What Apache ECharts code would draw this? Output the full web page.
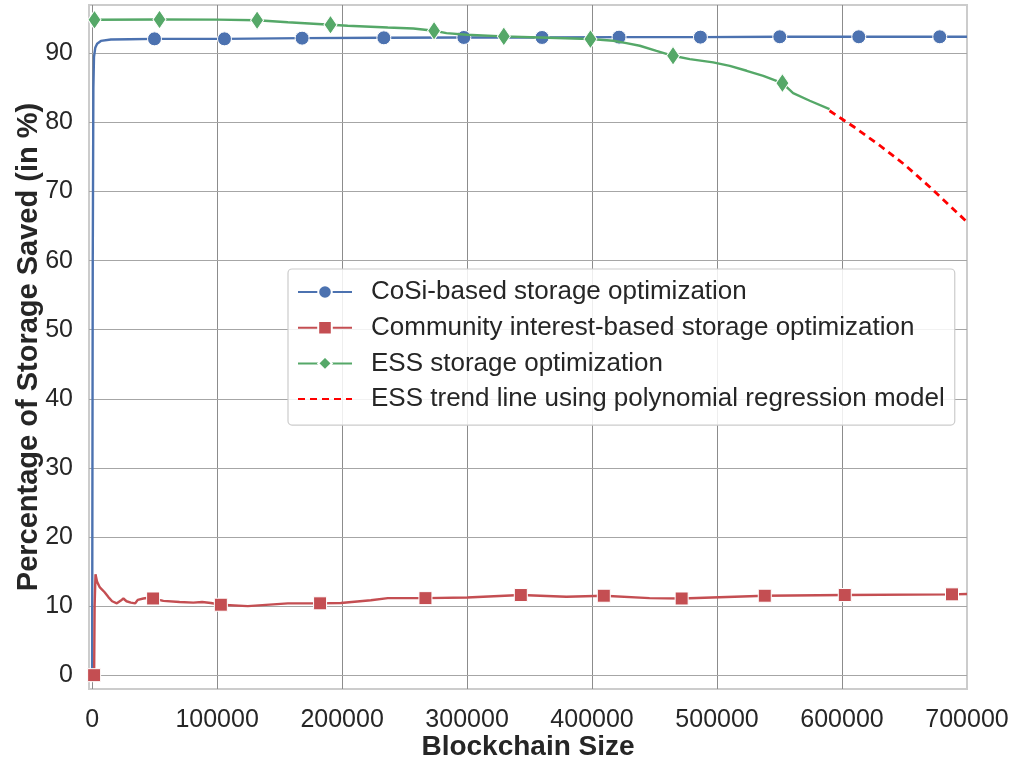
<!DOCTYPE html>
<html>
<head>
<meta charset="utf-8">
<script src="https://cdn.jsdelivr.net/npm/echarts@6/dist/echarts.min.js"></script>
<style>
html,body{margin:0;padding:0;background:#fff;}
#chart{width:1016px;height:761px;}
</style>
</head>
<body>
<div id="chart"></div>
<script>
// ---- data ----
const seriesNames = [
  'CoSi-based storage optimization',
  'Community interest-based storage optimization',
  'ESS storage optimization',
  'ESS trend line using polynomial regression model'
];
const xTickValues = [0, 100000, 200000, 300000, 400000, 500000, 600000, 700000];
const yTickValues = [0, 10, 20, 30, 40, 50, 60, 70, 80, 90];

const cosiX = [0, 500, 1000, 1500, 2500, 4000, 7000, 15000, 30000, 49900, 105900, 168000, 233400, 297400, 360000, 421600, 486700, 550200, 613400, 678200, 700000];
const cosiY = [0, 60, 85, 89.5, 90.8, 91.4, 91.8, 92.0, 92.05, 92.1, 92.1, 92.2, 92.25, 92.3, 92.3, 92.35, 92.35, 92.4, 92.4, 92.4, 92.4];
const cosiMarkerX = [49900, 105900, 168000, 233400, 297400, 360000, 421600, 486700, 550200, 613400, 678200];

const communityX = [1600, 2000, 2700, 4000, 6200, 10000, 13000, 16000, 19800, 23000, 25000, 27500, 31000, 34500, 36500, 41000, 45000, 48800, 57000, 70000, 81000, 88000, 95000, 103000, 124600, 156600, 182400, 199000, 223000, 236600, 266700, 300000, 343000, 379500, 409400, 446000, 471700, 538200, 602200, 688000, 700000];
const communityY = [0, 10, 14.6, 13.5, 12.7, 12.0, 11.3, 10.7, 10.4, 10.8, 11.1, 10.7, 10.5, 10.4, 10.9, 11.1, 11.2, 11.1, 10.75, 10.6, 10.5, 10.6, 10.45, 10.2, 10.0, 10.4, 10.4, 10.45, 10.85, 11.15, 11.15, 11.25, 11.6, 11.35, 11.5, 11.15, 11.1, 11.5, 11.6, 11.7, 11.75];
const communityMarkerX = [1600, 48800, 103000, 182400, 266700, 343000, 409400, 471700, 538200, 602200, 688000];

const essX = [0, 1900, 53900, 100000, 132000, 156600, 190700, 204500, 236600, 257000, 273600, 283500, 299500, 329400, 358200, 398700, 417000, 427500, 438200, 451500, 464800, 478200, 496900, 510200, 523700, 537000, 552300, 560900, 574200, 590000];
const essY = [94.8, 94.86, 94.9, 94.88, 94.8, 94.5, 94.14, 94.0, 93.75, 93.6, 93.27, 92.93, 92.7, 92.46, 92.3, 92.07, 91.82, 91.49, 91.1, 90.37, 89.65, 89.17, 88.7, 88.2, 87.48, 86.75, 85.7, 84.25, 83.14, 81.93];
const essMarkerX = [1900, 53900, 132000, 190700, 273600, 329400, 398700, 464800, 552300];

const trendX = [590000, 600000, 610000, 620000, 630000, 640000, 650000, 660000, 670000, 680000, 690000, 700000];
const trendY = [81.7, 80.5, 79.3, 78.0, 76.7, 75.3, 73.9, 72.3, 70.7, 69.0, 67.3, 65.6];

// ---- build ----
function build(xs, ys, markers, size) {
  const set = new Set(markers);
  return xs.map((x, i) => ({ value: [x, ys[i]], symbolSize: set.has(x) ? size : 0 }));
}
const FONT = '"Liberation Sans", Arial, Helvetica, sans-serif';
const TEXT = '#262626';
const X_MIN = -2500, X_MAX = 700000, X_STEP = 2500;
const Y_MIN = -2, Y_MAX = 97, Y_STEP = 1;

const gridLines = []
  .concat(xTickValues.filter(v => v > X_MIN && v < X_MAX).map(v => ({ xAxis: v, lineStyle: { color: '#8c8c8c', width: 1, type: 'solid' } })))
  .concat(yTickValues.map(v => ({ yAxis: v, lineStyle: { color: '#a6a6a6', width: 1, type: 'solid' } })));

const chart = echarts.init(document.getElementById('chart'), null, { renderer: 'canvas' });
chart.setOption({
  animation: false,
  backgroundColor: '#ffffff',
  textStyle: { fontFamily: FONT },
  grid: {
    left: 89, right: 49, top: 5, bottom: 72,
    outerBoundsMode: 'none', containLabel: false,
    show: true, borderColor: '#cccccc', borderWidth: 2, backgroundColor: '#ffffff'
  },
  legend: {
    orient: 'vertical',
    left: 288, top: 269, z: 20,
    padding: [9, 10, 12, 9],
    itemWidth: 54, itemHeight: 17, itemGap: 7.7,
    backgroundColor: 'rgba(255,255,255,0.85)',
    borderColor: '#cccccc', borderWidth: 1.2, borderRadius: 4,
    textStyle: { fontFamily: FONT, fontSize: 26, color: TEXT, lineHeight: 28, padding: [0, 0, 0, 14] },
    data: [
      seriesNames[0], seriesNames[1], seriesNames[2],
      { name: seriesNames[3], itemStyle: { opacity: 0 } }
    ]
  },
  xAxis: {
    type: 'value',
    min: X_MIN, max: X_MAX, interval: X_STEP,
    name: 'Blockchain Size', nameLocation: 'middle', nameGap: 44, nameMoveOverlap: false,
    nameTextStyle: { fontFamily: FONT, fontSize: 28, fontWeight: 'bold', color: TEXT },
    axisLine: { show: false }, axisTick: { show: false },
    axisLabel: { fontFamily: FONT, fontSize: 25, color: TEXT, margin: 19,
      formatter: v => (xTickValues.indexOf(v) >= 0 ? String(v) : '') },
    splitLine: { show: false }
  },
  yAxis: {
    type: 'value',
    min: Y_MIN, max: Y_MAX, interval: Y_STEP,
    name: 'Percentage of Storage Saved (in %)', nameLocation: 'middle', nameGap: 46, nameMoveOverlap: false,
    nameTextStyle: { fontFamily: FONT, fontSize: 29, fontWeight: 'bold', color: TEXT },
    axisLine: { show: false }, axisTick: { show: false },
    axisLabel: { fontFamily: FONT, fontSize: 25, color: TEXT, margin: 16,
      formatter: v => (yTickValues.indexOf(v) >= 0 ? String(v) : '') },
    splitLine: { show: false }
  },
  series: [
    {
      name: '__grid', type: 'line', data: [], z: 1, silent: true,
      markLine: { silent: true, z: 1, symbol: 'none', label: { show: false }, animation: false, data: gridLines }
    },
    {
      name: seriesNames[0], type: 'line', showSymbol: true, showAllSymbol: true, symbol: 'circle',
      data: build(cosiX, cosiY, cosiMarkerX, 14),
      lineStyle: { color: '#4c72b0', width: 2.4 },
      itemStyle: { color: '#4c72b0', borderColor: '#ffffff', borderWidth: 1 },
      emphasis: { disabled: true }, z: 2
    },
    {
      name: seriesNames[1], type: 'line', showSymbol: true, showAllSymbol: true, symbol: 'rect',
      data: build(communityX, communityY, communityMarkerX, 13),
      lineStyle: { color: '#c44e52', width: 2.4 },
      itemStyle: { color: '#c44e52', borderColor: '#ffffff', borderWidth: 1 },
      emphasis: { disabled: true }, z: 3
    },
    {
      name: seriesNames[2], type: 'line', showSymbol: true, showAllSymbol: true, symbol: 'diamond',
      data: build(essX, essY, essMarkerX, [13, 19]),
      lineStyle: { color: '#55a868', width: 2.4 },
      itemStyle: { color: '#55a868', borderColor: '#ffffff', borderWidth: 1 },
      emphasis: { disabled: true }, z: 4
    },
    {
      name: seriesNames[3], type: 'line', symbol: 'none',
      data: trendX.map((x, i) => [x, trendY[i]]),
      lineStyle: { color: '#ff0000', width: 2.8, type: [7, 5] },
      itemStyle: { color: '#ff0000' },
      emphasis: { disabled: true }, z: 5
    }
  ]
});
</script>
</body>
</html>
